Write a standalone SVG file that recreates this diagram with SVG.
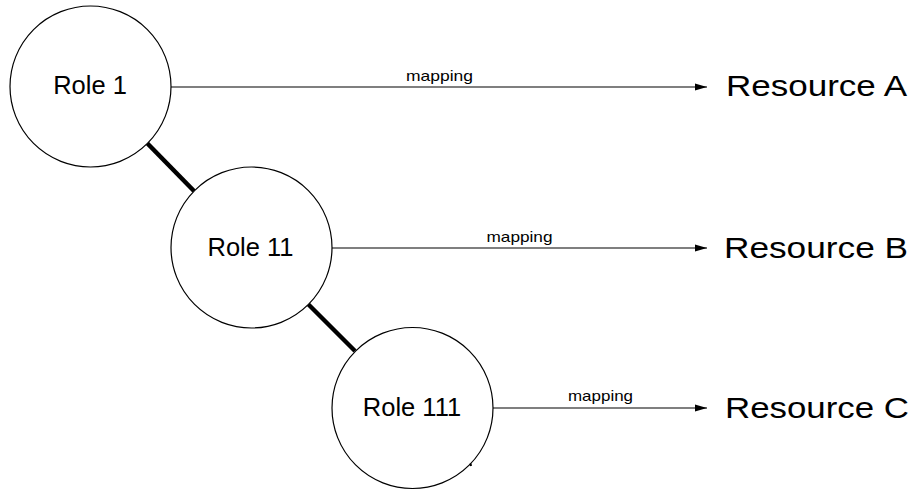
<svg xmlns="http://www.w3.org/2000/svg" width="914" height="491" viewBox="0 0 914 491">
<style>
.node{fill:#fff;stroke:#000;stroke-width:1.2}
.role{font-family:"Liberation Sans",Arial,sans-serif;font-size:25.5px;fill:#000;text-anchor:middle}
.res{font-family:"Liberation Sans",Arial,sans-serif;font-size:30px;fill:#000}
.lbl{font-family:"Liberation Sans",Arial,sans-serif;font-size:15px;fill:#000}
.map{stroke:#000;stroke-width:1.2;fill:none;marker-end:url(#arr)}
.hier{stroke:#000;stroke-width:4.5;fill:none}
</style>
<defs>
<marker id="arr" markerUnits="userSpaceOnUse" markerWidth="14" markerHeight="10" refX="12" refY="4" orient="auto">
<path d="M0,0.5 L12,4 L0,7.5 Z" fill="#000"/>
</marker>
</defs>
<rect width="914" height="491" fill="#fff"/>
<g id="connectors">
<line class="hier" x1="147" y1="143" x2="194" y2="191"/>
<line class="hier" x1="308" y1="304" x2="355" y2="351"/>
<line class="map" x1="171" y1="87" x2="707" y2="87"/>
<line class="map" x1="332" y1="248" x2="707" y2="248"/>
<line class="map" x1="493" y1="408" x2="707" y2="408"/>
<text class="lbl" x="406" y="81" textLength="67" lengthAdjust="spacingAndGlyphs">mapping</text>
<text class="lbl" x="486.5" y="242" textLength="66" lengthAdjust="spacingAndGlyphs">mapping</text>
<text class="lbl" x="568" y="401" textLength="65" lengthAdjust="spacingAndGlyphs">mapping</text>
</g>
<g id="role1">
<circle class="node" cx="90.5" cy="86.5" r="80.5"/>
<text class="role" x="90" y="94">Role 1</text>
</g>
<g id="role11">
<circle class="node" cx="251.5" cy="247.5" r="80.5"/>
<text class="role" x="250.5" y="256">Role 11</text>
</g>
<g id="role111">
<circle class="node" cx="412.5" cy="408" r="80.5"/>
<text class="role" x="412" y="416">Role 111</text>
<path d="M470.5,463.5 L471,466" stroke="#000" stroke-width="2"/>
</g>
<g id="resourceA">
<text class="res" x="726" y="96" textLength="181" lengthAdjust="spacingAndGlyphs">Resource A</text>
</g>
<g id="resourceB">
<text class="res" x="724" y="258" textLength="184" lengthAdjust="spacingAndGlyphs">Resource B</text>
</g>
<g id="resourceC">
<text class="res" x="725" y="418" textLength="184" lengthAdjust="spacingAndGlyphs">Resource C</text>
</g>
</svg>
